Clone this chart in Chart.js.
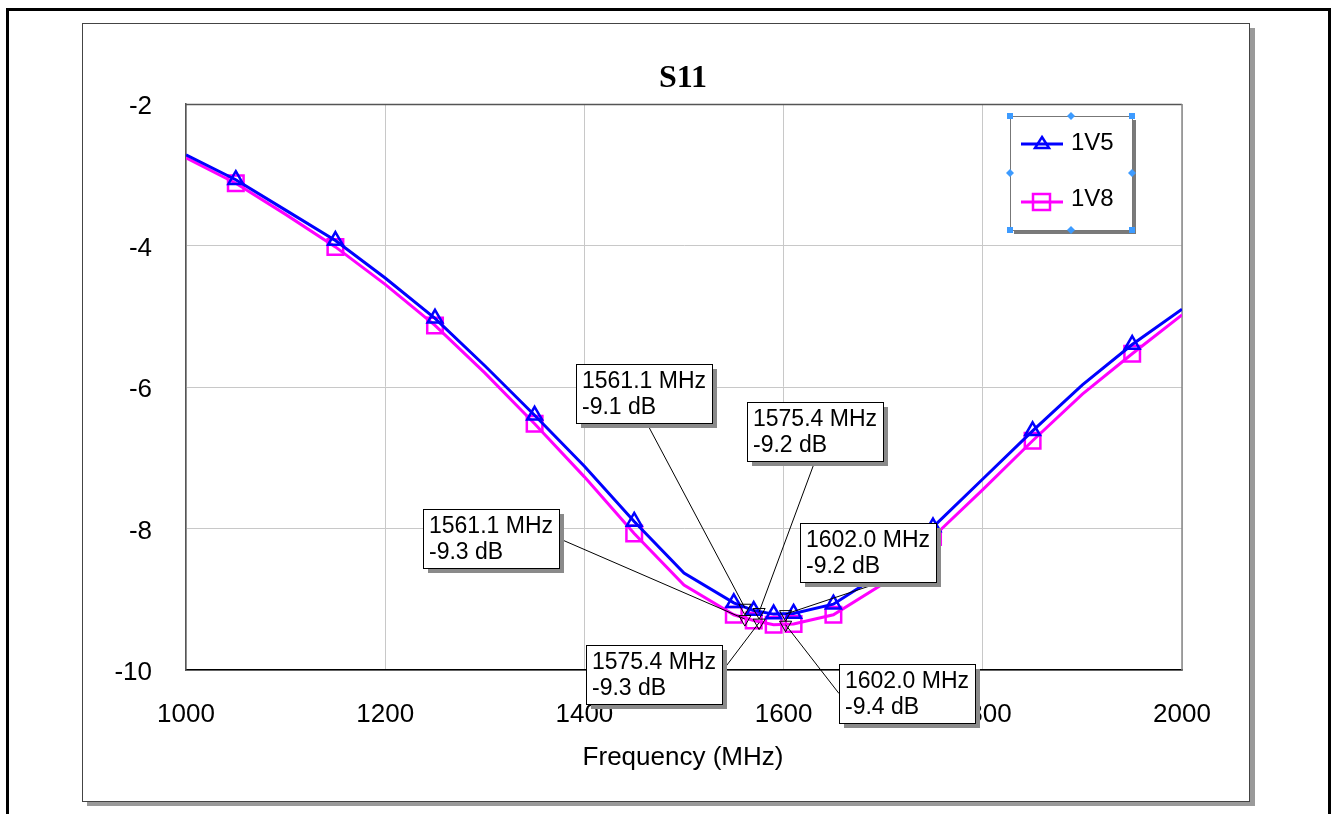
<!DOCTYPE html>
<html>
<head>
<meta charset="utf-8">
<title>S11</title>
<script src="https://cdn.jsdelivr.net/npm/chart.js@4.4.0/dist/chart.umd.min.js"></script>
<style>
  html, body { margin: 0; padding: 0; background: #fff; }
  #wrap { width: 1333px; height: 814px; }
</style>
</head>
<body>
<div id="wrap"><canvas id="s11" width="1333" height="814"></canvas></div>
<script>
// data
const freqs = [1000, 1050, 1100, 1150, 1200, 1250, 1300, 1350, 1400, 1450, 1500,
               1550, 1570, 1590, 1610, 1650, 1700, 1750, 1800, 1850, 1900, 1950, 2000];
const s11_1v5 = [-2.72, -3.07, -3.50, -3.93, -4.46, -5.03, -5.70, -6.40, -7.12, -7.90, -8.63,
                 -9.05, -9.16, -9.21, -9.20, -9.07, -8.62, -7.98, -7.30, -6.62, -5.97, -5.40, -4.90];
const s11_1v8 = [-2.76, -3.12, -3.56, -4.02, -4.55, -5.13, -5.80, -6.52, -7.27, -8.07, -8.80,
                 -9.22, -9.30, -9.36, -9.35, -9.22, -8.78, -8.12, -7.45, -6.76, -6.10, -5.53, -4.98];
// where the symbols sit on the traces
const symbolFreqs = [1050, 1150, 1250, 1350, 1450, 1550, 1570, 1590, 1610, 1650, 1750, 1850, 1950];

// marker readouts
const markFreqs = [1561.1, 1575.4, 1602.0];
const mark_1v5 = [-9.12, -9.18, -9.21];
const mark_1v8 = [-9.28, -9.33, -9.36];

const xTickVals = [1000, 1200, 1400, 1600, 1800, 2000];
const yTickVals = [-10, -8, -6, -4, -2];
const seriesNames = ['1V5', '1V8'];

const BLUE = '#0000ff';
const PINK = '#ff00ff';
const FONT = '"Liberation Sans", Arial, sans-serif';

// box placement for marker labels (top-left in data units, leader anchor as box fraction)
const noteBoxes = [
  { s: 0, i: 0, at: [1391.6, -5.675], anchor: [0.52, 1] },
  { s: 0, i: 1, at: [1563.3, -6.212], anchor: [0.5, 1] },
  { s: 1, i: 0, at: [1238.0, -7.724], anchor: [1, 0.5] },
  { s: 0, i: 2, at: [1616.5, -7.922], anchor: [0.6, 1] },
  { s: 1, i: 1, at: [1401.6, -9.647], anchor: [1, 0.45] },
  { s: 1, i: 2, at: [1655.6, -9.915], anchor: [0, 0.5] }
];

const pts = (xs, ys) => xs.map((x, k) => ({ x: x, y: ys[k] }));
const symRadius = r => c => symbolFreqs.includes(freqs[c.dataIndex]) ? r : 0;

// page frame, inner panel with shadow
const framePlugin = {
  id: 'frame',
  beforeDraw(chart) {
    const c = chart.ctx;
    c.save();
    c.fillStyle = '#fff';
    c.fillRect(0, 0, chart.width, chart.height);
    c.fillStyle = '#000';
    c.fillRect(6, 8, 1325, 3);
    c.fillRect(6, 8, 3, 820);
    c.fillRect(1328, 8, 3, 820);
    c.fillStyle = '#9a9a9a';
    c.fillRect(87, 28, 1168, 778);
    c.fillStyle = '#fff';
    c.fillRect(82, 23, 1167, 778);
    c.strokeStyle = '#444';
    c.lineWidth = 1;
    c.strokeRect(82.5, 23.5, 1167, 778);
    c.restore();
  },
  beforeDatasetsDraw(chart) {
    const a = chart.chartArea, c = chart.ctx;
    c.save();
    c.strokeStyle = '#555';
    c.lineWidth = 1.5;
    c.beginPath();
    c.moveTo(a.left, a.top + 0.5);
    c.lineTo(a.right, a.top + 0.5);
    c.stroke();
    c.strokeStyle = '#888';
    c.lineWidth = 1.5;
    c.beginPath();
    c.moveTo(a.right, a.top);
    c.lineTo(a.right, a.bottom);
    c.stroke();
    c.restore();
  }
};

// titles, marker labels and legend
const notesPlugin = {
  id: 'notes',
  afterDraw(chart) {
    const c = chart.ctx, xs = chart.scales.x, ys = chart.scales.y;
    c.save();
    c.fillStyle = '#000';
    c.textAlign = 'center';
    c.textBaseline = 'alphabetic';
    c.font = 'bold 32px "Liberation Serif", "Times New Roman", serif';
    c.fillText('S11', 683, 87);
    c.font = '26px ' + FONT;
    c.fillText('Frequency (MHz)', 683, 765);

    // marker labels
    c.font = '23px ' + FONT;
    c.textAlign = 'left';
    const markVals = [mark_1v5, mark_1v8];
    noteBoxes.forEach(b => {
      const f = markFreqs[b.i], v = markVals[b.s][b.i];
      const l1 = f.toFixed(1) + ' MHz', l2 = v.toFixed(1) + ' dB';
      const bx = Math.round(xs.getPixelForValue(b.at[0]));
      const by = Math.round(ys.getPixelForValue(b.at[1]));
      const w = Math.round(c.measureText(l1).width + 12), h = 59;
      const px = xs.getPixelForValue(f), py = ys.getPixelForValue(v);
      c.strokeStyle = '#000';
      c.lineWidth = 1;
      c.beginPath();
      c.moveTo(bx + w * b.anchor[0], by + h * b.anchor[1]);
      c.lineTo(px, py);
      c.stroke();
      c.fillStyle = '#8a8a8a';
      c.fillRect(bx + 5, by + 5, w, h);
      c.fillStyle = '#fff';
      c.fillRect(bx, by, w, h);
      c.strokeRect(bx + 0.5, by + 0.5, w, h);
      c.fillStyle = '#000';
      c.fillText(l1, bx + 6, by + 24);
      c.fillText(l2, bx + 6, by + 50);
    });

    // legend box
    const L = { x: 1010, y: 116, w: 122, h: 114 };
    c.fillStyle = '#7a7a7a';
    c.fillRect(L.x + 4, L.y + 4, L.w, L.h);
    c.fillStyle = '#fff';
    c.fillRect(L.x, L.y, L.w, L.h);
    c.strokeStyle = '#777';
    c.lineWidth = 1;
    c.strokeRect(L.x + 0.5, L.y + 0.5, L.w, L.h);

    c.lineWidth = 3;
    c.strokeStyle = BLUE;
    c.beginPath(); c.moveTo(1021, 144); c.lineTo(1063, 144); c.stroke();
    c.lineWidth = 2.5;
    c.beginPath(); c.moveTo(1042, 137); c.lineTo(1049, 148); c.lineTo(1035, 148); c.closePath(); c.stroke();
    c.lineWidth = 3;
    c.strokeStyle = PINK;
    c.beginPath(); c.moveTo(1021, 202); c.lineTo(1063, 202); c.stroke();
    c.lineWidth = 2.5;
    c.strokeRect(1033, 194, 17, 16);
    c.fillStyle = '#000';
    c.font = '24px ' + FONT;
    c.textBaseline = 'middle';
    c.fillText(seriesNames[0], 1071, 143);
    c.fillText(seriesNames[1], 1071, 199);

    // selection handles
    c.fillStyle = '#3d9bff';
    [[L.x, L.y], [L.x + L.w, L.y], [L.x, L.y + L.h], [L.x + L.w, L.y + L.h]].forEach(p => {
      c.fillRect(p[0] - 3, p[1] - 3, 6, 6);
    });
    [[L.x + L.w / 2, L.y], [L.x, L.y + L.h / 2], [L.x + L.w, L.y + L.h / 2], [L.x + L.w / 2, L.y + L.h]].forEach(p => {
      c.beginPath();
      c.moveTo(p[0], p[1] - 4); c.lineTo(p[0] + 4, p[1]); c.lineTo(p[0], p[1] + 4); c.lineTo(p[0] - 4, p[1]);
      c.closePath(); c.fill();
    });
    c.restore();
  }
};

const ctx = document.getElementById('s11').getContext('2d');

new Chart(ctx, {
  type: 'line',
  data: {
    datasets: [
      {
        label: seriesNames[0],
        data: pts(freqs, s11_1v5),
        borderColor: BLUE,
        borderWidth: 3,
        pointStyle: 'triangle',
        pointRadius: symRadius(8.5),
        pointBorderColor: BLUE,
        pointBackgroundColor: 'rgba(0,0,0,0)',
        pointBorderWidth: 2.5,
        tension: 0,
        order: 1
      },
      {
        label: seriesNames[1],
        data: pts(freqs, s11_1v8),
        borderColor: PINK,
        borderWidth: 3,
        pointStyle: 'rect',
        pointRadius: symRadius(11),
        pointBorderColor: PINK,
        pointBackgroundColor: 'rgba(0,0,0,0)',
        pointBorderWidth: 2.5,
        tension: 0,
        order: 2
      },
      {
        label: 'm1v5',
        data: pts(markFreqs, mark_1v5),
        showLine: false,
        pointStyle: 'triangle',
        rotation: 180,
        pointRadius: 7,
        pointBorderColor: '#000',
        pointBackgroundColor: 'rgba(0,0,0,0)',
        pointBorderWidth: 1,
        order: 0
      },
      {
        label: 'm1v8',
        data: pts(markFreqs, mark_1v8),
        showLine: false,
        pointStyle: 'triangle',
        rotation: 180,
        pointRadius: 7,
        pointBorderColor: '#000',
        pointBackgroundColor: 'rgba(0,0,0,0)',
        pointBorderWidth: 1,
        order: 0
      }
    ]
  },
  options: {
    responsive: false,
    animation: false,
    layout: { padding: { left: 0, top: 104, right: 151, bottom: 0 } },
    plugins: { legend: { display: false }, tooltip: { enabled: false }, title: { display: false } },
    scales: {
      x: {
        type: 'linear',
        min: 1000,
        max: 2000,
        afterBuildTicks: s => { s.ticks = xTickVals.map(v => ({ value: v })); },
        afterFit: s => { s.height = 144; },
        grid: { color: '#c8c8c8', lineWidth: 1, drawTicks: false },
        border: { color: '#000', width: 1.5 },
        ticks: { color: '#000', font: { family: FONT, size: 26 }, padding: 29, maxRotation: 0,
                 callback: v => String(v) }
      },
      y: {
        type: 'linear',
        min: -10,
        max: -2,
        afterBuildTicks: s => { s.ticks = yTickVals.map(v => ({ value: v })); },
        afterFit: s => { s.width = 186; },
        grid: { color: '#c8c8c8', lineWidth: 1, drawTicks: false },
        border: { color: '#555', width: 1.5 },
        ticks: { color: '#000', font: { family: FONT, size: 26 }, padding: 34, labelOffset: 3,
                 callback: v => String(v) }
      }
    }
  },
  plugins: [framePlugin, notesPlugin]
});
</script>
</body>
</html>
